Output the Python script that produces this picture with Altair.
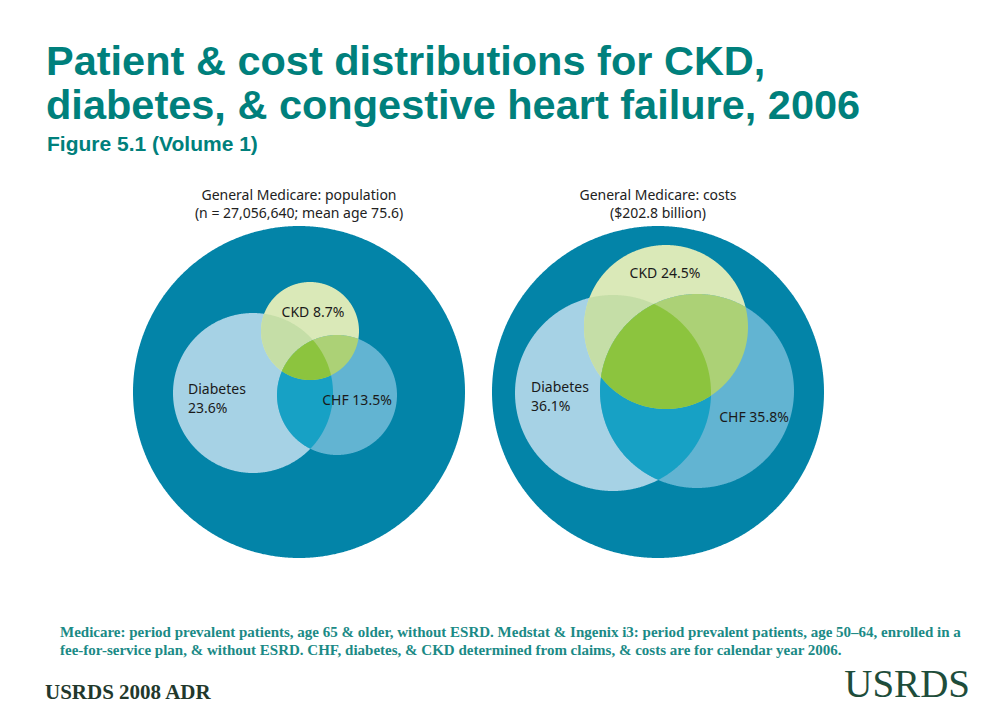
import altair as alt
import numpy as np
import pandas as pd

# ---------------- data ----------------
title_lines = ["Patient & cost distributions for CKD,",
               "diabetes, & congestive heart failure, 2006"]
subtitle = "Figure 5.1 (Volume 1)"
panel_titles = [["General Medicare: population", "(n = 27,056,640; mean age 75.6)"],
                ["General Medicare: costs", "($202.8 billion)"]]
footnote = ["Medicare: period prevalent patients, age 65 & older, without ESRD. Medstat & Ingenix i3: period prevalent patients, age 50\u201364, enrolled in a",
            "fee-for-service plan, & without ESRD. CHF, diabetes, & CKD determined from claims, & costs are for calendar year 2006."]
source = "USRDS 2008 ADR"
logo = "USRDS"

sets = ["Diabetes", "CKD", "CHF"]
# Venn layout (center x, center y, radius) in reference units
outer_cx = [299, 658]
outer_cy = [392, 392]
outer_r = [166, 166]
pop_cx = [253, 310, 337]
pop_cy = [393, 331, 395]
pop_r = [80, 49, 60]
cost_cx = [613, 666, 697]
cost_cy = [393, 327, 391]
cost_r = [98, 82, 97]
pop_pct = ["23.6%", "8.7%", "13.5%"]
cost_pct = ["36.1%", "24.5%", "35.8%"]

# ---------------- style ----------------
OFF = 8
region_fill = {
    "outer": "#0384a8",
    "D": "#a6d2e5",
    "K": "#dae9b8",
    "H": "#62b4d2",
    "DK": "#c5dea7",
    "DH": "#17a1c5",
    "KH": "#acd176",
    "DKH": "#8cc43e",
}
keys = ["D", "K", "H"]
TEAL = "#00807c"


def ring(cx, cy, r, n=900):
    t = np.linspace(0, 2 * np.pi, n, endpoint=False)
    return np.column_stack([cx + r * np.cos(t), cy + r * np.sin(t)])


def region(circles):
    pts = []
    for i, (cx, cy, r) in enumerate(circles):
        p = ring(cx, cy, r)
        keep = np.ones(len(p), bool)
        for j, (ox, oy, orr) in enumerate(circles):
            if j != i:
                keep &= np.hypot(p[:, 0] - ox, p[:, 1] - oy) <= orr + 1e-9
        pts.append(p[keep])
    p = np.vstack(pts)
    c = p.mean(axis=0)
    p = p[np.argsort(np.arctan2(p[:, 1] - c[1], p[:, 0] - c[0]))]
    return p.tolist() + [p[0].tolist()]


def feat(coords, key):
    return {"type": "Feature",
            "geometry": {"type": "Polygon", "coordinates": [coords]},
            "properties": {"fill": region_fill[key], "key": key}}


features = []
for k, (cxs, cys, rs) in enumerate([(pop_cx, pop_cy, pop_r), (cost_cx, cost_cy, cost_r)]):
    features.append(feat(region([(outer_cx[k], outer_cy[k], outer_r[k])]), "outer"))
    circ = list(zip(cxs, cys, rs))
    for i in range(3):
        features.append(feat(region([circ[i]]), keys[i]))
    for a, b in [(0, 1), (0, 2), (1, 2)]:
        features.append(feat(region([circ[a], circ[b]]), keys[a] + keys[b]))
    features.append(feat(region(circ), "DKH"))

shapes = alt.Chart(alt.Data(values=features)).mark_geoshape(
    strokeWidth=0, strokeOpacity=0
).encode(
    fill=alt.Fill("properties.fill:N", scale=None)
).project(type="identity", scale=1, translate=[-OFF, -OFF])


def txt(text, x, y, size, color, font, weight="normal", align="left"):
    return alt.Chart(pd.DataFrame({"t": [text]})).mark_text(
        align=align, baseline="alphabetic", fontSize=size, font=font,
        fontWeight=weight, color=color
    ).encode(text="t:N", x=alt.value(x - OFF), y=alt.value(y - OFF))


SANS_B = "Liberation Sans"
LBL = "Noto Sans"
SERIF = "Liberation Serif"

layers = [shapes]
layers.append(txt(title_lines[0], 46, 75, 41.5, TEAL, SANS_B, "bold"))
layers.append(txt(title_lines[1], 46, 119, 41.5, TEAL, SANS_B, "bold"))
layers.append(txt(subtitle, 47, 151, 21, TEAL, SANS_B, "bold"))

for k, cx in enumerate(outer_cx):
    layers.append(txt(panel_titles[k][0], cx, 200, 14, "#222222", LBL, align="center"))
    layers.append(txt(panel_titles[k][1], cx, 218, 14, "#222222", LBL, align="center"))

# in-circle labels
lab_pos_pop = {"Diabetes": (188, 394), "CKD": (313, 317), "CHF": (357, 405)}
lab_pos_cost = {"Diabetes": (531, 392), "CKD": (665, 278), "CHF": (754, 422)}
for pcts, pos in [(pop_pct, lab_pos_pop), (cost_pct, lab_pos_cost)]:
    for name, pct in zip(sets, pcts):
        x, y = pos[name]
        if name == "Diabetes":
            layers.append(txt(name, x, y, 14, "#1a1a1a", LBL))
            layers.append(txt(pct, x, y + 19, 14, "#1a1a1a", LBL))
        else:
            layers.append(txt(f"{name} {pct}", x, y, 14, "#1a1a1a", LBL, align="center"))

layers.append(txt(footnote[0], 60, 637, 15, "#1b8a86", SERIF, "bold"))
layers.append(txt(footnote[1], 60, 655, 15, "#1b8a86", SERIF, "bold"))
layers.append(txt(source, 45, 699, 21, "#22382c", SERIF, "bold"))
layers.append(txt(logo, 970, 697, 39, "#1e4d3b", SERIF, align="right"))

chart = alt.layer(*layers).properties(
    width=969, height=697, padding=0, autosize="none", background="white"
).configure_view(stroke=None)

chart.save("out.html", embed_options={"renderer": "svg", "actions": False})
